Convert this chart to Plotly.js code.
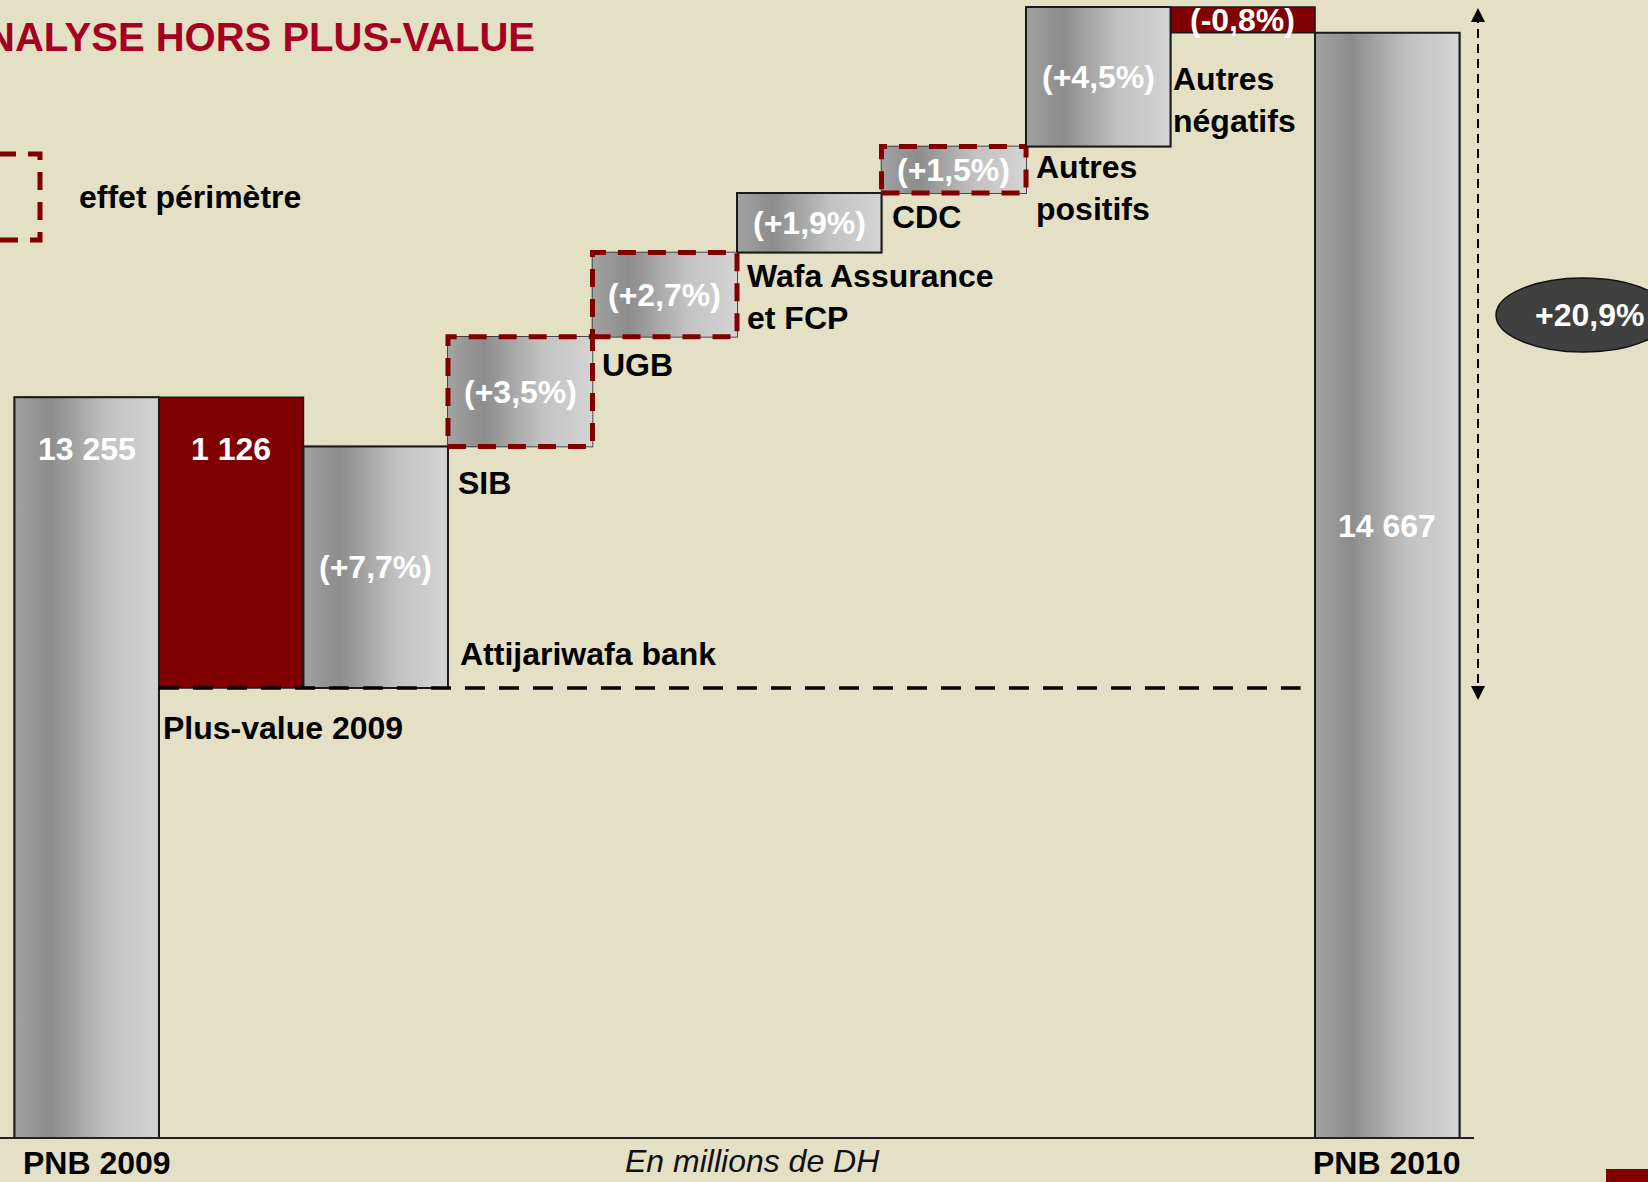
<!DOCTYPE html>
<html>
<head>
<meta charset="utf-8">
<script src="https://cdn.plot.ly/plotly-3.0.1.min.js"></script>
<style>
html, body { margin: 0; padding: 0; background: #e4e0c5; }
#chart { width: 1648px; height: 1182px; }
</style>
</head>
<body>
<div id="chart"></div>
<script>
// PNB waterfall, en millions de DH
var categories = ['PNB 2009', 'Plus-value 2009', 'Attijariwafa bank', 'SIB', 'UGB',
    'Wafa Assurance<br>et FCP', 'CDC', 'Autres<br>positifs', 'Autres<br>négatifs', 'PNB 2010'];
var pnb2009 = 13255;
var plusValue2009 = 1126;
var stepValues = [935, 425, 327, 230, 180, 541, -100];
var stepLabels = ['(+7,7%)', '(+3,5%)', '(+2,7%)', '(+1,9%)', '(+1,5%)', '(+4,5%)', '(-0,8%)'];
var perimeterEffect = [false, true, true, false, true, false, false];
var pnb2010 = 14667;
var totalGrowth = '+20,9%';
var valueLabels = ['13 255', '1 126', '14 667'];

var bg = '#e4e0c5';
var darkRed = '#800000';
var grayScale = [[0, '#a2a2a2'], [0.25, '#8c8c8c'], [0.65, '#c2c2c2'], [1, '#d4d4d4']];

// build bases / heights
var hors = pnb2009 - plusValue2009;
var bases = [0, hors];
var heights = [pnb2009, plusValue2009];
var dashed = [false, false];
var level = hors;
stepValues.forEach(function (v, k) {
    bases.push(level);
    heights.push(v);
    dashed.push(perimeterEffect[k]);
    level += v;
});
bases.push(0);
heights.push(pnb2010);
dashed.push(false);

var xs = categories.map(function (c, i) { return i; });
var isRed = heights.map(function (h, i) { return i === 1 || (i > 1 && i < 9 && h < 0); });

var traces = [{
    type: 'bar',
    x: xs,
    y: heights,
    base: bases,
    width: 1,
    marker: {
        color: isRed.map(function (r) { return r ? darkRed : '#b4b4b4'; }),
        line: {color: '#1a1a1a', width: 1.5}
    },
    hoverinfo: 'skip'
}];

// gradient fill + outline for the gray blocks
xs.forEach(function (i) {
    if (isRed[i]) return;
    var b = bases[i], t = bases[i] + heights[i];
    traces.push({
        type: 'scatter',
        mode: 'lines',
        x: [i - 0.5, i + 0.5, i + 0.5, i - 0.5, i - 0.5],
        y: [b, b, t, t, b],
        fill: 'toself',
        fillcolor: '#b4b4b4',
        fillgradient: {type: 'horizontal', start: i - 0.5, stop: i + 0.5, colorscale: grayScale},
        line: dashed[i] ? {color: darkRed, width: 5, dash: '18px,12px'} : {color: '#1a1a1a', width: 2},
        hoverinfo: 'skip'
    });
});

// dashed level hors plus-value
traces.push({
    type: 'scatter',
    mode: 'lines',
    x: [0.5, 8.4],
    y: [hors, hors],
    line: {color: '#000', width: 3.5, dash: '20px,14px'},
    hoverinfo: 'skip'
});

var H = 1137, W = 1474;
function py(p) { return (H - p) / H; }
function px(p) { return p / W; }

var annotations = [];
var bold = {size: 32, color: '#000', weight: 'bold'};
var white = {size: 32, color: '#fff', weight: 'bold'};

// values inside bars
annotations.push({x: 0, y: pnb2009, yanchor: 'middle', yshift: -52, text: valueLabels[0], showarrow: false, font: white});
annotations.push({x: 1, y: pnb2009, yanchor: 'middle', yshift: -52, text: valueLabels[1], showarrow: false, font: white});
annotations.push({x: 9, xref: 'x', yref: 'paper', y: py(526), yanchor: 'middle', text: valueLabels[2], showarrow: false, font: white});
stepLabels.forEach(function (s, k) {
    var i = k + 2;
    annotations.push({x: i, y: bases[i] + heights[i] / 2, yanchor: 'middle', text: s, showarrow: false, font: white});
});

// category names next to the blocks
var labelShift = {1: -20, 3: -16, 5: -4, 6: -4, 7: 0, 8: -26};
for (var i = 1; i < 9; i++) {
    var bottom = Math.min(bases[i], bases[i] + heights[i]);
    if (i === 2) {
        annotations.push({x: 2.5, y: hors, xanchor: 'left', yanchor: 'bottom', xshift: 10, yshift: 14,
            text: categories[i], showarrow: false, align: 'left', font: bold});
    } else {
        annotations.push({x: i - 0.5, y: bottom, xanchor: 'left', yanchor: 'top',
            xshift: i === 1 ? 2 : (i === 8 ? 0 : 8),
            yshift: labelShift[i] !== undefined ? labelShift[i] : -8,
            text: categories[i], showarrow: false, align: 'left', font: bold});
    }
}

// PNB labels under the axis
annotations.push({x: 0, yref: 'paper', y: py(1163), xshift: 10, yanchor: 'middle',
    text: categories[0], showarrow: false, font: bold});
annotations.push({x: 9, yref: 'paper', y: py(1163), yanchor: 'middle',
    text: categories[9], showarrow: false, font: bold});

annotations.push({xref: 'paper', yref: 'paper', x: px(77), y: py(197), xanchor: 'left', yanchor: 'middle',
    text: 'effet périmètre', showarrow: false, font: bold});
annotations.push({xref: 'paper', yref: 'paper', x: px(753), y: py(1161), xanchor: 'center', yanchor: 'middle',
    text: 'En millions de DH', showarrow: false, font: {size: 32, color: '#111', style: 'italic'}});
annotations.push({xref: 'paper', yref: 'paper', x: px(1589), y: py(315), xanchor: 'center', yanchor: 'middle',
    text: totalGrowth, showarrow: false, font: white});

// arrow heads of the +20,9% span
annotations.push({xref: 'paper', yref: 'paper', x: px(1478), y: py(8), ax: 0, ay: 14, text: '',
    showarrow: true, arrowhead: 2, arrowsize: 1.4, arrowwidth: 2, arrowcolor: '#000'});
annotations.push({xref: 'paper', yref: 'paper', x: px(1478), y: py(700), ax: 0, ay: -14, text: '',
    showarrow: true, arrowhead: 2, arrowsize: 1.4, arrowwidth: 2, arrowcolor: '#000'});

var shapes = [
    // span line
    {type: 'line', xref: 'paper', yref: 'paper', x0: px(1478), x1: px(1478), y0: py(14), y1: py(694),
        line: {color: '#000', width: 2, dash: '9px,6px'}},
    // ellipse
    {type: 'circle', xref: 'paper', yref: 'paper', x0: px(1496), x1: px(1670), y0: py(352), y1: py(278),
        fillcolor: '#404040', line: {color: '#111', width: 1.5}},
    // legend box (effet périmètre)
    {type: 'rect', xref: 'paper', yref: 'paper', x0: px(-30), x1: px(40), y0: py(240), y1: py(154),
        line: {color: darkRed, width: 5, dash: '18px,12px'}},
    // slide corner mark
    {type: 'rect', xref: 'paper', yref: 'paper', x0: px(1606), x1: px(1700), y0: py(1200), y1: py(1169),
        fillcolor: darkRed, line: {width: 0}}
];

var layout = {
    width: 1648,
    height: 1182,
    paper_bgcolor: bg,
    plot_bgcolor: bg,
    margin: {l: 0, r: 174, t: 0, b: 45},
    showlegend: false,
    bargap: 0,
    font: {family: 'Liberation Sans, Arial, sans-serif', size: 32, color: '#000'},
    title: {
        text: 'ANALYSE HORS PLUS-VALUE',
        xref: 'container', yref: 'container',
        x: 535 / 1648, xanchor: 'right',
        y: 1 - 37 / 1182, yanchor: 'middle',
        font: {size: 40, color: '#a50021', weight: 'bold'}
    },
    xaxis: {
        range: [-0.6, 9.6],
        tickvals: [0, 9],
        showticklabels: false,
        ticks: '',
        showgrid: false,
        zeroline: false,
        showline: true,
        linecolor: '#222',
        linewidth: 2,
        fixedrange: true
    },
    yaxis: {
        range: [10389, 14794],
        visible: false,
        fixedrange: true
    },
    shapes: shapes,
    annotations: annotations
};

Plotly.newPlot('chart', traces, layout, {staticPlot: true, displayModeBar: false});
</script>
</body>
</html>
